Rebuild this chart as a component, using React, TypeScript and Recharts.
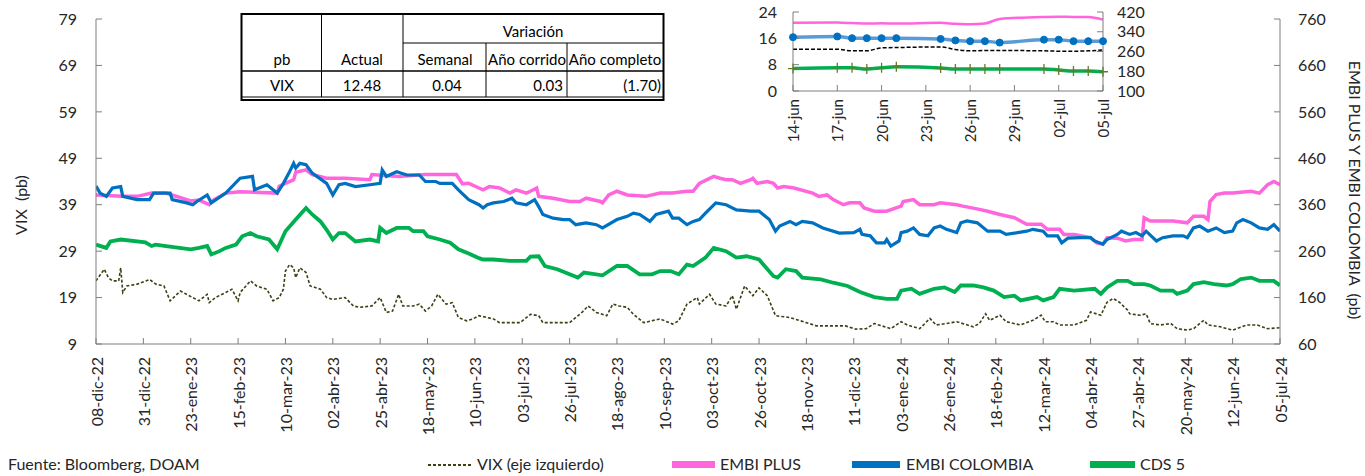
import React from 'react';
import { LineChart, Line, XAxis, YAxis } from 'recharts';

const FONT = 'Lato, "Open Sans", sans-serif';

// ---------- main chart: x axis (day offsets from 08-dic-22) ----------
const xTickDays = [0, 23, 46, 69, 92, 115, 138, 161, 184, 207, 230, 253, 276, 299, 322, 345, 368, 391, 414, 437, 460, 483, 506, 529, 552, 575];
const xTickLabels = ['08-dic-22', '31-dic-22', '23-ene-23', '15-feb-23', '10-mar-23', '02-abr-23', '25-abr-23', '18-may-23', '10-jun-23', '03-jul-23', '26-jul-23', '18-ago-23', '10-sep-23', '03-oct-23', '26-oct-23', '18-nov-23', '11-dic-23', '03-ene-24', '26-ene-24', '18-feb-24', '12-mar-24', '04-abr-24', '27-abr-24', '20-may-24', '12-jun-24', '05-jul-24'];
const leftTicks = [9, 19, 29, 39, 49, 59, 69, 79];
const rightTicks = [60, 160, 260, 360, 460, 560, 660, 760];

// ---------- main chart series ----------
const vixDays = [0,4,6,8,11,12,13,15,20,26,29,33,36,41,47,50,54,55,58,63,66,69,70,75,78,83,86,89,91,92,94,96,97,99,102,104,109,112,115,121,125,128,134,138,141,144,147,149,154,157,160,163,166,170,173,176,180,183,186,193,196,206,211,215,217,230,236,239,243,248,251,254,258,261,266,274,280,283,287,292,293,298,301,306,309,311,315,319,322,326,330,337,345,350,358,364,369,374,378,386,391,394,400,405,408,413,418,426,429,432,434,439,442,449,455,459,461,465,468,475,481,483,488,491,494,497,501,502,507,510,512,517,522,525,530,533,538,540,546,552,559,564,569,575];
const vixValues = [22.6,25.1,23.3,22.6,22.6,25.4,20.1,21.5,21.9,22.9,21.9,21.5,18.3,20.4,19,18.3,19.7,17.9,19,20.1,20.8,18.3,20.1,22.6,21.5,20.8,18.3,19,20.8,24.7,26.1,25.4,23.3,25.4,24.4,21.5,20.8,19,18.6,19,17.2,16.9,17.2,19,15.8,16.1,19.7,17.2,17.2,17.6,16.1,17.2,19.7,17.6,17.9,14.7,14,14.4,15.1,14.4,13.6,13.6,15.4,15.1,13.6,13.6,15.8,17.2,15.8,15.1,17.6,17.2,16.9,15.4,13.6,14.4,13.3,14,17.6,19,17.6,19.7,17.6,17.2,19.4,16.5,21.5,19.4,21.1,19.4,15.1,14.7,13.6,12.9,12.9,12.9,12.2,12.3,13.4,12.3,13.8,13.1,12.3,14.5,13.1,13.4,13.8,12.7,13.4,15.5,14.1,15.2,13.8,13.1,14.1,15.2,13.8,13.8,13.1,13.1,14.1,15.9,15.2,18,18.8,18,16.3,15.5,15.2,15.5,13.4,13.1,13.4,12.3,12,12.3,14.1,13.1,12.7,12,13.1,13.1,12.3,12.5];

const embiPlusDays = [0,13,20,27,34,46,50,55,57,63,70,88,89,96,97,102,105,112,121,133,134,147,160,175,178,181,186,188,191,196,201,204,209,211,214,215,222,230,235,238,245,246,249,253,258,267,274,280,287,290,293,300,303,306,309,313,318,319,321,326,329,331,334,339,348,351,355,358,363,366,371,373,378,384,391,392,397,400,407,410,418,421,429,433,439,446,449,452,459,462,468,470,475,483,486,489,491,496,500,504,508,509,512,518,523,530,533,538,540,541,544,548,552,561,565,569,572,575];
const embiPlusValues = [381,378,378,385,385,368,370,360,370,385,388,385,400,414,430,435,425,417,417,414,425,421,425,425,405,406,396,392,399,396,385,392,385,389,396,378,374,367,367,374,367,364,381,389,381,378,385,385,389,389,406,421,417,414,414,406,414,417,406,410,406,396,399,396,385,378,381,371,360,364,364,353,346,346,357,367,371,360,360,364,360,357,350,346,339,332,325,318,318,307,307,296,296,289,278,275,289,288,282,285,285,332,325,325,325,321,335,335,328,367,382,385,385,389,385,403,410,403];

const embiColDays = [0,2,5,8,12,13,20,26,28,36,37,44,47,49,54,56,63,70,76,77,83,88,91,94,96,97,99,102,105,112,115,118,121,126,133,138,139,141,146,151,157,160,165,167,173,176,181,186,188,190,193,198,202,204,209,213,215,217,222,227,230,233,238,243,246,253,258,261,264,269,272,278,280,283,287,290,293,296,301,306,311,318,322,327,330,332,337,340,343,348,353,361,368,371,372,376,379,383,384,386,390,391,394,397,400,404,407,410,413,418,420,423,428,433,439,442,452,455,460,462,467,469,472,478,483,485,489,491,496,498,502,505,508,510,515,518,523,528,530,533,536,540,544,548,552,554,557,561,565,569,572,575];
const embiColValues = [400,385,378,396,399,378,371,371,385,385,371,364,360,367,381,364,385,417,421,392,403,385,406,431,449,439,449,446,428,406,381,403,406,399,403,406,435,421,431,424,424,410,410,406,406,392,371,360,353,360,364,367,374,364,360,371,356,339,331,328,328,317,321,317,310,328,335,342,339,324,339,346,331,331,317,324,328,342,364,360,349,346,346,328,303,314,324,317,324,321,310,299,300,307,296,293,278,278,285,271,282,300,303,310,296,293,310,314,307,300,321,325,321,303,303,296,303,307,303,293,293,278,288,289,289,282,275,285,296,303,296,300,293,303,282,289,293,293,289,310,314,303,310,300,303,321,328,321,310,307,317,303];

const cdsDays = [0,5,7,12,24,27,29,34,46,50,54,56,60,63,68,71,75,78,84,88,92,97,102,105,109,112,115,118,121,126,133,137,138,141,146,152,154,159,161,167,172,176,181,186,188,193,201,209,211,215,218,224,230,234,237,246,253,258,264,270,274,279,283,287,290,296,300,306,311,316,322,329,331,335,340,343,352,358,365,371,378,384,389,391,396,400,407,412,417,420,426,431,436,441,446,449,457,460,465,468,475,485,488,491,496,501,504,509,512,517,523,525,530,533,538,543,549,552,556,561,565,572,575];
const cdsValues = [274,267,281,285,279,271,274,271,264,267,271,253,260,267,274,292,299,292,285,264,303,328,353,339,324,306,285,299,299,281,285,281,310,299,310,310,303,303,292,285,278,264,255,245,242,242,239,239,248,249,228,221,210,203,214,208,228,228,210,210,217,217,210,231,228,246,267,260,246,249,242,206,203,221,217,203,199,192,185,172,161,157,157,175,179,168,179,182,172,186,186,182,175,161,164,154,161,154,161,179,175,179,168,182,196,196,189,189,186,175,175,168,175,189,193,189,186,189,200,203,196,196,186];

// ---------- inset chart (14-jun to 05-jul) ----------
const insetDays = [0, 3, 4, 5, 6, 7, 10, 11, 12, 13, 14, 17, 18, 19, 20, 21];
const insetTickDays = [0, 3, 6, 9, 12, 15, 18, 21];
const insetTickLabels = ['14-jun', '17-jun', '20-jun', '23-jun', '26-jun', '29-jun', '02-jul', '05-jul'];
const insetLeftTicks = [0, 8, 16, 24];
const insetRightTicks = [100, 180, 260, 340, 420];
const insetVix = [12.7, 12.7, 12.2, 12.2, 13.1, 13.2, 13.4, 12.6, 12.2, 12.3, 12.3, 12.2, 12.1, 12.1, 12.2, 12.48];
const insetEmbiPlus = [376, 377, 375, 373, 374, 373, 376, 372, 370, 373, 392, 400, 401, 400, 400, 389];
const insetEmbiCol = [318, 321, 314, 314, 314, 314, 311, 305, 302, 302, 296, 308, 308, 302, 302, 302];
const insetCds = [191, 194, 194, 189, 194, 198, 193, 189, 189, 189, 189, 189, 185, 181, 181, 178];

// ---------- table ----------
const tableHeaders = ['pb', 'Actual', 'Semanal', 'Año corrido', 'Año completo'];
const tableRow = ['VIX', '12.48', '0.04', '0.03', '(1.70)'];

const toData = (days: number[], vals: number[]) => days.map((d, i) => ({ d, v: vals[i] }));
const vixData = toData(vixDays, vixValues);
const embiPlusData = toData(embiPlusDays, embiPlusValues);
const embiColData = toData(embiColDays, embiColValues);
const cdsData = toData(cdsDays, cdsValues);
const insetData = insetDays.map((d, i) => ({ d, vix: insetVix[i], plus: insetEmbiPlus[i], col: insetEmbiCol[i], cds: insetCds[i] }));

const C_PLUS = '#FF66DD';
const C_COL = '#0070C0';
const C_CDS = '#00B050';
const C_VIX = '#3F3F14';
const AXIS = '#7F7F7F';
const TXT = '#262626';

const MainXTick = (props: any) => {
  const { x, y, payload } = props;
  const i = xTickDays.indexOf(payload.value);
  return (
    <text x={x} y={y} transform={`rotate(-90 ${x} ${y})`} textAnchor="end" dominantBaseline="central" fontSize={16} fill={TXT} fontFamily={FONT}>
      {xTickLabels[i]}
    </text>
  );
};

const InsetXTick = (props: any) => {
  const { x, y, payload } = props;
  const i = insetTickDays.indexOf(payload.value);
  return (
    <text x={x} y={y} transform={`rotate(-90 ${x} ${y})`} textAnchor="end" dominantBaseline="central" fontSize={15} fill={TXT} fontFamily={FONT}>
      {insetTickLabels[i]}
    </text>
  );
};

const PlusDot = (props: any) => {
  const { cx, cy, index } = props;
  if (cx == null || cy == null) return <g key={`pd-${index}`} />;
  return <path key={`pd-${index}`} d={`M${cx - 5},${cy}h10M${cx},${cy - 5}v10`} stroke="#5E7D2B" strokeWidth={1.3} fill="none" />;
};

const tickStyle = { fontSize: 16, fill: TXT, fontFamily: FONT };

function Table() {
  const colX = [241, 321.5, 403, 486, 567, 663];
  const centers = [282, 362, 445, 527, 615];
  return (
    <g fontFamily={FONT} fontSize={15} fill="#000">
      <rect x={241.5} y={14} width={422} height={86} fill="#fff" stroke="#000" strokeWidth={2} />
      <line x1={241.5} x2={663.5} y1={97} y2={97} stroke="#000" strokeWidth={1} />
      <line x1={colX[1]} x2={colX[1]} y1={14} y2={97} stroke="#000" strokeWidth={1} />
      <line x1={colX[2]} x2={colX[2]} y1={14} y2={97} stroke="#000" strokeWidth={1} />
      <line x1={colX[3]} x2={colX[3]} y1={43} y2={97} stroke="#000" strokeWidth={1} />
      <line x1={colX[4]} x2={colX[4]} y1={43} y2={97} stroke="#000" strokeWidth={1} />
      <line x1={colX[2]} x2={663} y1={43} y2={43} stroke="#000" strokeWidth={1} />
      <line x1={241.5} x2={663} y1={71} y2={71} stroke="#000" strokeWidth={1.5} />
      <text x={533} y={31} textAnchor="middle" dominantBaseline="central">Variación</text>
      {tableHeaders.map((h, i) => (
        <text key={h} x={centers[i]} y={59} textAnchor="middle" dominantBaseline="central">{h}</text>
      ))}
      <text x={282} y={85} textAnchor="middle" dominantBaseline="central">{tableRow[0]}</text>
      <text x={362} y={85} textAnchor="middle" dominantBaseline="central">{tableRow[1]}</text>
      <text x={447} y={85} textAnchor="middle" dominantBaseline="central">{tableRow[2]}</text>
      <text x={563} y={85} textAnchor="end" dominantBaseline="central">{tableRow[3]}</text>
      <text x={661} y={85} textAnchor="end" dominantBaseline="central">{tableRow[4]}</text>
    </g>
  );
}

const legendItems = [
  { name: 'VIX (eje izquierdo)', color: C_VIX, dashed: true, x0: 428, x1: 472, tx: 477 },
  { name: 'EMBI PLUS', color: C_PLUS, dashed: false, x0: 672, x1: 715, tx: 720 },
  { name: 'EMBI COLOMBIA', color: C_COL, dashed: false, x0: 852, x1: 900, tx: 906 },
  { name: 'CDS 5', color: C_CDS, dashed: false, x0: 1090, x1: 1135, tx: 1140 },
];

export default function App() {
  return (
    <div style={{ position: 'absolute', left: 0, top: 0, width: 1365, height: 476, background: '#fff', overflow: 'hidden' }}>
      <div style={{ position: 'absolute', left: 0, top: 0 }}>
        <LineChart width={1365} height={476} margin={{ top: 19, right: 0, bottom: 42, left: 0 }}>
          <XAxis
            type="number"
            dataKey="d"
            domain={[0, 575]}
            ticks={xTickDays}
            interval={0}
            height={90}
            stroke={AXIS}
            tickSize={-6}
            tickMargin={19}
            tick={<MainXTick />}
            allowDataOverflow
          />
          <YAxis yAxisId="l" orientation="left" width={96} domain={[9, 79]} ticks={leftTicks} interval={0} stroke={AXIS} tickSize={-6} tickMargin={25} tick={tickStyle} allowDataOverflow />
          <YAxis yAxisId="r" orientation="right" width={85} domain={[60, 760]} ticks={rightTicks} interval={0} stroke={AXIS} tickSize={-6} tickMargin={24} tick={tickStyle} allowDataOverflow />
          <Line yAxisId="l" data={vixData} dataKey="v" name="VIX (eje izquierdo)" stroke={C_VIX} strokeWidth={1.6} strokeDasharray="3 2" dot={false} isAnimationActive={false} />
          <Line yAxisId="r" data={embiPlusData} dataKey="v" name="EMBI PLUS" stroke={C_PLUS} strokeWidth={3.5} dot={false} isAnimationActive={false} />
          <Line yAxisId="r" data={embiColData} dataKey="v" name="EMBI COLOMBIA" stroke={C_COL} strokeWidth={3.2} dot={false} isAnimationActive={false} />
          <Line yAxisId="r" data={cdsData} dataKey="v" name="CDS 5" stroke={C_CDS} strokeWidth={3.8} dot={false} isAnimationActive={false} />
        </LineChart>
      </div>

      <div style={{ position: 'absolute', left: 700, top: 0, background: 'transparent' }}>
        <LineChart width={460} height={160} data={insetData} margin={{ top: 12, right: 0, bottom: 0, left: 0 }}>
          <XAxis type="number" dataKey="d" domain={[0, 21]} ticks={insetTickDays} interval={0} height={69} stroke={AXIS} tickSize={-6} tickMargin={14} tick={<InsetXTick />} />
          <YAxis yAxisId="l" orientation="left" width={93} domain={[0, 24]} ticks={insetLeftTicks} interval={0} stroke={AXIS} tickSize={-6} tickMargin={22} tick={tickStyle} />
          <YAxis yAxisId="r" orientation="right" width={57} domain={[100, 420]} ticks={insetRightTicks} interval={0} stroke={AXIS} tickSize={-6} tickMargin={20} tick={tickStyle} />
          <Line yAxisId="r" type="monotone" dataKey="plus" stroke={C_PLUS} strokeWidth={2.5} dot={false} isAnimationActive={false} />
          <Line yAxisId="r" type="monotone" dataKey="col" stroke="#5B9BD5" strokeWidth={3.5} dot={{ r: 3.5, fill: C_COL, stroke: C_COL, strokeWidth: 1 }} isAnimationActive={false} />
          <Line yAxisId="l" type="monotone" dataKey="vix" stroke="#000" strokeWidth={1.5} strokeDasharray="4 2" dot={false} isAnimationActive={false} />
          <Line yAxisId="r" type="monotone" dataKey="cds" stroke={C_CDS} strokeWidth={3.5} dot={<PlusDot />} isAnimationActive={false} />
        </LineChart>
      </div>

      <svg width={1365} height={476} style={{ position: 'absolute', left: 0, top: 0, pointerEvents: 'none' }}>
        <Table />
        <text x={20} y={205} transform="rotate(-90 20 205)" textAnchor="middle" dominantBaseline="central" fontSize={16} fill={TXT} fontFamily={FONT} style={{ whiteSpace: 'pre' }}>
          {'VIX  (pb)'}
        </text>
        <text x={1355} y={190} transform="rotate(90 1355 190)" textAnchor="middle" dominantBaseline="central" fontSize={16} fill={TXT} fontFamily={FONT} style={{ whiteSpace: 'pre' }}>
          {'EMBI PLUS Y EMBI COLOMBIA  (pb)'}
        </text>
        <g fontFamily={FONT} fontSize={16} fill={TXT}>
          <text x={8} y={470}>Fuente: Bloomberg, DOAM</text>
          {legendItems.map((it) => (
            <g key={it.name}>
              {it.dashed ? (
                <line x1={it.x0} x2={it.x1} y1={465} y2={465} stroke={it.color} strokeWidth={2} strokeDasharray="3 2" />
              ) : (
                <rect x={it.x0} y={461} width={it.x1 - it.x0} height={7} fill={it.color} />
              )}
              <text x={it.tx} y={470}>{it.name}</text>
            </g>
          ))}
        </g>
      </svg>
    </div>
  );
}
